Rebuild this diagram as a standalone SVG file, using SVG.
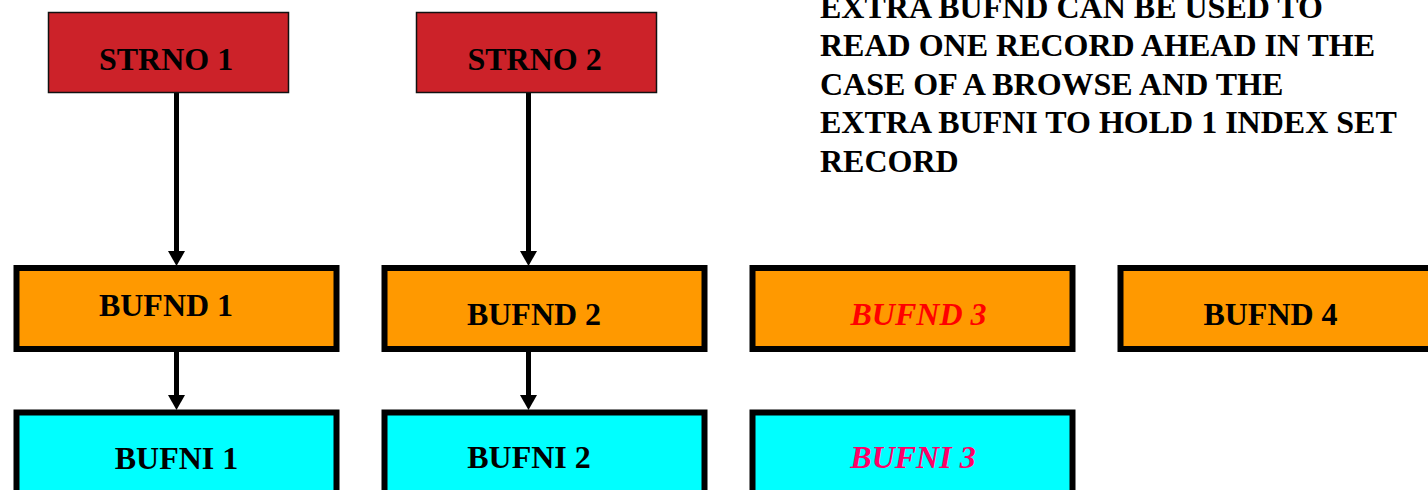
<svg xmlns="http://www.w3.org/2000/svg" width="1428" height="490" viewBox="0 0 1428 490">
<style>
.t{font-family:"Liberation Serif","Times New Roman",serif;font-weight:bold;font-size:32px;fill:#000}
.c{text-anchor:middle}
.it{font-style:italic}
.strno{fill:#cc2229;stroke:#111;stroke-width:1.5}
.bufnd{fill:#ff9900;stroke:#000;stroke-width:6}
.bufni{fill:#00ffff;stroke:#000;stroke-width:6}
.conn{stroke:#000;stroke-width:5;fill:none}
</style>
<defs>
<marker id="ah" viewBox="0 0 15 17" refX="0" refY="8.5" markerWidth="15" markerHeight="17" markerUnits="userSpaceOnUse" orient="auto">
<path d="M0,0 L15,8.5 L0,17 z" fill="#000"/>
</marker>
</defs>
<rect width="1428" height="490" fill="#fff"/>
<g id="connectors">
<line class="conn" x1="176.5" y1="93" x2="176.5" y2="251" marker-end="url(#ah)"/>
<line class="conn" x1="528.5" y1="93" x2="528.5" y2="251" marker-end="url(#ah)"/>
<line class="conn" x1="176.5" y1="352" x2="176.5" y2="395" marker-end="url(#ah)"/>
<line class="conn" x1="528.5" y1="352" x2="528.5" y2="395" marker-end="url(#ah)"/>
</g>
<g id="strno1">
<rect class="strno" x="48.5" y="12.5" width="240" height="80"/>
<text class="t c" x="166" y="69.5">STRNO 1</text>
</g>
<g id="strno2">
<rect class="strno" x="416.5" y="12.5" width="240" height="80"/>
<text class="t c" x="534.5" y="69.5">STRNO 2</text>
</g>
<g id="bufnd1">
<rect class="bufnd" x="16.5" y="268" width="320" height="81"/>
<text class="t c" x="166" y="315.5">BUFND 1</text>
</g>
<g id="bufnd2">
<rect class="bufnd" x="384.5" y="268" width="320" height="81"/>
<text class="t c" x="534" y="325">BUFND 2</text>
</g>
<g id="bufnd3">
<rect class="bufnd" x="752.5" y="268" width="320" height="81"/>
<text class="t c it" x="918.5" y="325" style="fill:#ff0000">BUFND 3</text>
</g>
<g id="bufnd4">
<rect class="bufnd" x="1120.5" y="268" width="320" height="81"/>
<text class="t c" x="1270.5" y="325">BUFND 4</text>
</g>
<g id="bufni1">
<rect class="bufni" x="16.5" y="412.5" width="320" height="90"/>
<text class="t c" x="176.5" y="469">BUFNI 1</text>
</g>
<g id="bufni2">
<rect class="bufni" x="384.5" y="412.5" width="320" height="90"/>
<text class="t c" x="529" y="468">BUFNI 2</text>
</g>
<g id="bufni3">
<rect class="bufni" x="752.5" y="412.5" width="320" height="90"/>
<text class="t c it" x="913" y="468" style="fill:#ff0066">BUFNI 3</text>
</g>
<g id="note">
<text class="t" x="820" y="17.5">EXTRA BUFND CAN BE USED TO</text>
<text class="t" x="820" y="56">READ ONE RECORD AHEAD IN THE</text>
<text class="t" x="820" y="94.5">CASE OF A BROWSE AND THE</text>
<text class="t" x="820" y="133">EXTRA BUFNI TO HOLD 1 INDEX SET</text>
<text class="t" x="820" y="171.5">RECORD</text>
</g>
</svg>
